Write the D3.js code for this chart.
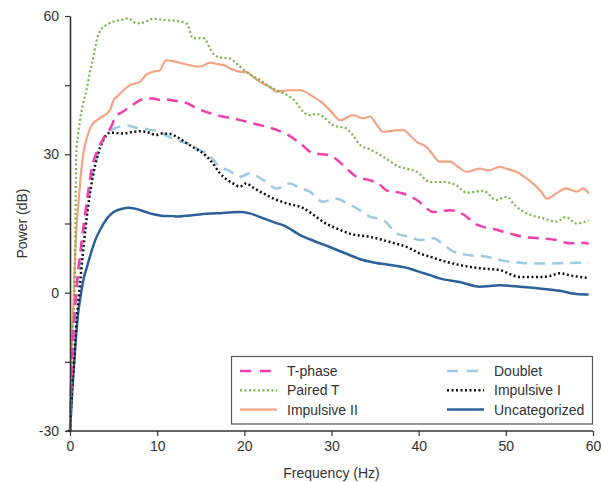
<!DOCTYPE html>
<html>
<head>
<meta charset="utf-8">
<script src="https://cdn.jsdelivr.net/npm/d3@7"></script>
<style>
body { margin: 0; background: #fff; }
text { font-family: "Liberation Sans", Arial, sans-serif; fill: #333; }
</style>
</head>
<body>
<svg width="601" height="482"></svg>
<script>
// [frequency Hz, power dB]
var tphase = [[0,-30],[0.1,-22],[0.23,-15],[0.45,-7],[0.7,0],[1.2,9],[1.95,20],[2.5,27],[3.2,31],[4,34],[4.6,35.5],[5.2,38],[6,39.2],[6.9,40.3],[7.8,41.5],[8.7,42.1],[9.5,42.1],[10.3,41.8],[11,41.9],[12,41.6],[13.4,41.1],[14.5,40],[16.1,38.9],[17.5,38.2],[18.7,37.8],[20,37.2],[21,36.7],[22.5,36],[23.7,35.3],[25,34.2],[26.4,32.4],[27.9,30.2],[29,30],[29.8,29.8],[31.3,27.7],[32.9,25.1],[34.4,24.4],[35.5,23.5],[36.3,22.2],[38.2,21.5],[39.8,20.1],[41.7,17.5],[43.6,17.9],[45.1,17],[46.6,14.8],[48.6,13.8],[50.5,12.8],[52,12.1],[53.9,11.8],[55.8,11.4],[57.3,10.7],[58.9,10.8],[59.5,10.6]];
var doublet = [[0,-30],[0.25,-15],[0.75,0],[1.3,9],[2.1,20],[2.7,26.6],[3.4,31],[4.2,34.5],[5,35.5],[5.7,36],[6.5,36.3],[7.5,35.8],[8.4,35.6],[9.2,35.3],[10.3,34.9],[11.1,34],[12.2,33.1],[13.4,32.4],[14.9,30.9],[15.7,30.2],[17.2,27.3],[18.3,26.4],[19.5,25.1],[20.6,25.9],[22.2,24.4],[23.7,22.6],[25.2,23.7],[26.3,22.8],[27.5,21.9],[29,19.7],[30.5,20.4],[31.7,19.5],[32.9,18.3],[34.4,16.5],[36,15.7],[37.5,12.8],[39,12.1],[40.1,11.4],[41.7,11.8],[42.8,10.5],[44,8.9],[45.9,8.1],[47.8,7.8],[49.5,7],[50.8,6.7],[52.5,6.4],[54.7,6.3],[57,6.4],[59.5,6.5]];
var pairedT = [[0,-30],[0.1,-22],[0.2,-15],[0.35,-6],[0.5,-1],[0.6,10],[0.65,20],[0.72,30],[0.9,34],[1.15,37.4],[1.5,41],[1.9,44],[2.3,48],[2.7,51.2],[3.1,55],[3.4,56.6],[4,57.8],[5,58.8],[6,59.2],[6.7,59.5],[7.6,58.4],[8.5,58.6],[9.5,59.4],[11,59.1],[12,59],[13.4,58.3],[14.1,55.2],[15.3,55.2],[16.4,51.9],[17.2,51],[18.3,50.8],[19.5,49],[20.5,47.5],[21.8,46.1],[23,44.5],[24.1,43.6],[26,41.1],[26.4,40],[27.5,38.5],[28.2,38.8],[29,38.2],[30.2,36.3],[31.7,35.6],[32.5,34],[33.3,32],[34.5,31],[35.9,29.5],[37.8,27.3],[38.8,26.8],[39.8,26.2],[41.3,24],[42.8,24],[44.3,23.3],[45.5,21.7],[47.4,22.1],[48.9,20.1],[50.1,20.8],[51,19],[52.4,17.2],[54.3,16.1],[55.8,15.4],[56.9,16.4],[58.1,15],[59.5,15.7]];
var impulsiveI = [[0,-30],[0.2,-22],[0.46,-15],[0.75,-6],[1,-1],[1.5,9],[2.1,19],[2.6,25],[3.2,30],[3.8,33],[4.6,34.7],[6.1,34.5],[7,34.8],[8,35],[8.7,34.9],[9.9,34.2],[10.5,34.5],[11.5,34.4],[12.5,33.5],[13.4,32.4],[14.1,31.6],[15.7,29.5],[16.4,28],[17.2,25.9],[18.7,23.7],[19.5,23],[20.2,23.7],[21,22.8],[22.2,21.5],[23.5,20.3],[24.8,19.4],[26.8,18.3],[28,16.8],[29,15.4],[30.5,14],[32.1,12.8],[34.4,12.1],[36.7,11],[39,9.6],[40.1,8.5],[41.3,7.8],[42.4,7.1],[44.7,6],[47,5.3],[49.3,4.9],[50.5,4],[51.6,3.4],[53.9,3.4],[55,3.6],[56.2,4.2],[57.5,3.7],[59.5,3.2]];
var impulsiveII = [[0,-30],[0.08,-20],[0.15,-15],[0.3,-7],[0.42,-1],[0.6,9],[0.99,20],[1.56,30.5],[2,34],[2.5,36.3],[3.4,37.8],[4.6,39.6],[5,41.8],[5.4,42.5],[6.2,44],[6.9,45],[8,45.7],[8.4,46.5],[8.7,47.2],[9.5,47.9],[10.3,48.2],[11,50.4],[11.8,50.2],[12.9,49.7],[14.9,49],[16.1,49.9],[17,49.5],[17.6,49.4],[18.5,48.5],[19.5,47.9],[20.2,47.9],[21,46.8],[21.8,45.7],[23,44.5],[23.7,43.6],[25.2,43.9],[26.4,43.9],[27.9,42.5],[29,41.1],[30,39.2],[31,37.4],[32.5,38.5],[33.6,37.8],[34.4,38.2],[35.2,36.4],[35.9,34.9],[37,35.1],[38.2,35.3],[39,34.1],[39.8,32.7],[40.9,31.6],[41.6,30],[42.4,28.4],[43.6,28.4],[44.5,27.3],[45.5,26.2],[47,26.9],[48,26.5],[49.3,27.3],[50.2,26.8],[51.2,26.2],[52.2,25],[53.1,23.7],[54,22],[54.7,20.4],[55.8,21.5],[56.9,22.6],[58.1,21.9],[58.9,22.6],[59.5,21.5]];
var uncategorized = [[0,-30],[0.3,-20],[0.6,-12],[0.9,-5],[1.2,-1],[1.5,2.5],[1.95,5.6],[2.9,11.4],[3.5,13.8],[4.2,16],[5,17.5],[6,18.2],[6.7,18.4],[7.5,18.2],[9.2,17.2],[10.5,16.7],[11.8,16.6],[12.2,16.5],[14,16.8],[15.7,17.1],[17.5,17.3],[18.3,17.4],[19.5,17.5],[20.6,17.2],[22.2,16.1],[23.5,15.2],[24.5,14.6],[26.4,12.5],[28,11.2],[29.8,9.9],[31.5,8.6],[33.6,7.1],[35,6.5],[36.7,6],[39,5.2],[40.1,4.5],[41.3,3.8],[42.4,3.1],[44.7,2.3],[47,1.3],[49.3,1.6],[51.6,1.3],[53.9,0.9],[56.2,0.4],[58.1,-0.3],[59.5,-0.4]];

var xTicks = [0, 10, 20, 30, 40, 50, 60];
var yTicks = [-30, -15, 0, 15, 30, 45, 60];
var yLabelled = [-30, 0, 30, 60];

// legend order: left column then right column
var series = [
	{ name: "T-phase", data: tphase, color: "#f03fa9", dash: "11,7", width: 2.5 },
	{ name: "Paired T", data: pairedT, color: "#79b349", dash: "2,2.5", width: 2.2 },
	{ name: "Impulsive II", data: impulsiveII, color: "#f2a483", dash: null, width: 2.2 },
	{ name: "Doublet", data: doublet, color: "#9ccae3", dash: "11,7", width: 2.5 },
	{ name: "Impulsive I", data: impulsiveI, color: "#111", dash: "2,2.5", width: 2.5 },
	{ name: "Uncategorized", data: uncategorized, color: "#2c6099", dash: null, width: 2.5 }
];

var svg = d3.select("svg");
var margin = { left: 70, top: 16, right: 8, bottom: 51 };
var width = 601 - margin.left - margin.right;
var height = 482 - margin.top - margin.bottom;

var x = d3.scaleLinear().domain([0, 60]).range([margin.left, margin.left + width]);
var y = d3.scaleLinear().domain([-30, 60]).range([margin.top + height, margin.top]);

var line = d3.line()
	.x(d => x(d[0]))
	.y(d => y(d[1]))
	.curve(d3.curveMonotoneX);

// draw order so that the solid blue sits at the back like the original
var drawOrder = [5, 2, 1, 3, 4, 0];
svg.append("g")
	.selectAll("path")
	.data(drawOrder.map(i => series[i]))
	.join("path")
	.attr("d", d => line(d.data))
	.attr("fill", "none")
	.attr("stroke", d => d.color)
	.attr("stroke-width", d => d.width)
	.attr("stroke-dasharray", d => d.dash)
	.attr("stroke-linejoin", "round");

// axes
var xAxis = svg.append("g")
	.attr("transform", "translate(0," + (margin.top + height) + ")")
	.call(d3.axisBottom(x).tickValues(xTicks).tickSize(5).tickPadding(5).tickSizeOuter(0));

var yAxis = svg.append("g")
	.attr("transform", "translate(" + margin.left + ",0)")
	.call(d3.axisLeft(y).tickValues(yTicks).tickSize(5).tickPadding(6).tickSizeOuter(0)
		.tickFormat(d => yLabelled.indexOf(d) >= 0 ? d : ""));

[xAxis, yAxis].forEach(a => {
	a.select(".domain").attr("stroke", "#333").attr("stroke-width", 1.6);
	a.selectAll(".tick line").attr("stroke", "#333").attr("stroke-width", 1.2);
	a.selectAll(".tick text").attr("font-size", 14).attr("fill", "#333")
		.style("font-family", "'Liberation Sans', Arial, sans-serif");
});
xAxis.select(".domain").attr("d", "M" + (margin.left - 4) + ",0H" + (margin.left + width));

svg.append("text")
	.attr("x", margin.left + width / 2)
	.attr("y", 478)
	.attr("text-anchor", "middle")
	.attr("font-size", 14)
	.text("Frequency (Hz)");

svg.append("text")
	.attr("transform", "translate(27," + (margin.top + height / 2) + ") rotate(-90)")
	.attr("text-anchor", "middle")
	.attr("font-size", 14)
	.text("Power (dB)");

// legend
var legend = svg.append("g");
legend.append("rect")
	.attr("x", 231.5).attr("y", 356.5)
	.attr("width", 361).attr("height", 67.5)
	.attr("fill", "#fff")
	.attr("stroke", "#555")
	.attr("stroke-width", 1.2);

var item = legend.selectAll("g.item")
	.data(series)
	.join("g")
	.attr("class", "item")
	.attr("transform", (d, i) => "translate(" + (i < 3 ? 240 : 447) + "," + (371 + (i % 3) * 19.3) + ")");

item.append("line")
	.attr("x1", 0).attr("x2", 37)
	.attr("stroke", d => d.color)
	.attr("stroke-width", d => d.width)
	.attr("stroke-dasharray", d => d.dash ? (d.dash === "11,7" ? "11,9" : d.dash) : null);

item.append("text")
	.attr("x", 47)
	.attr("dy", "0.35em")
	.attr("font-size", 14)
	.text(d => d.name);
</script>
</body>
</html>
